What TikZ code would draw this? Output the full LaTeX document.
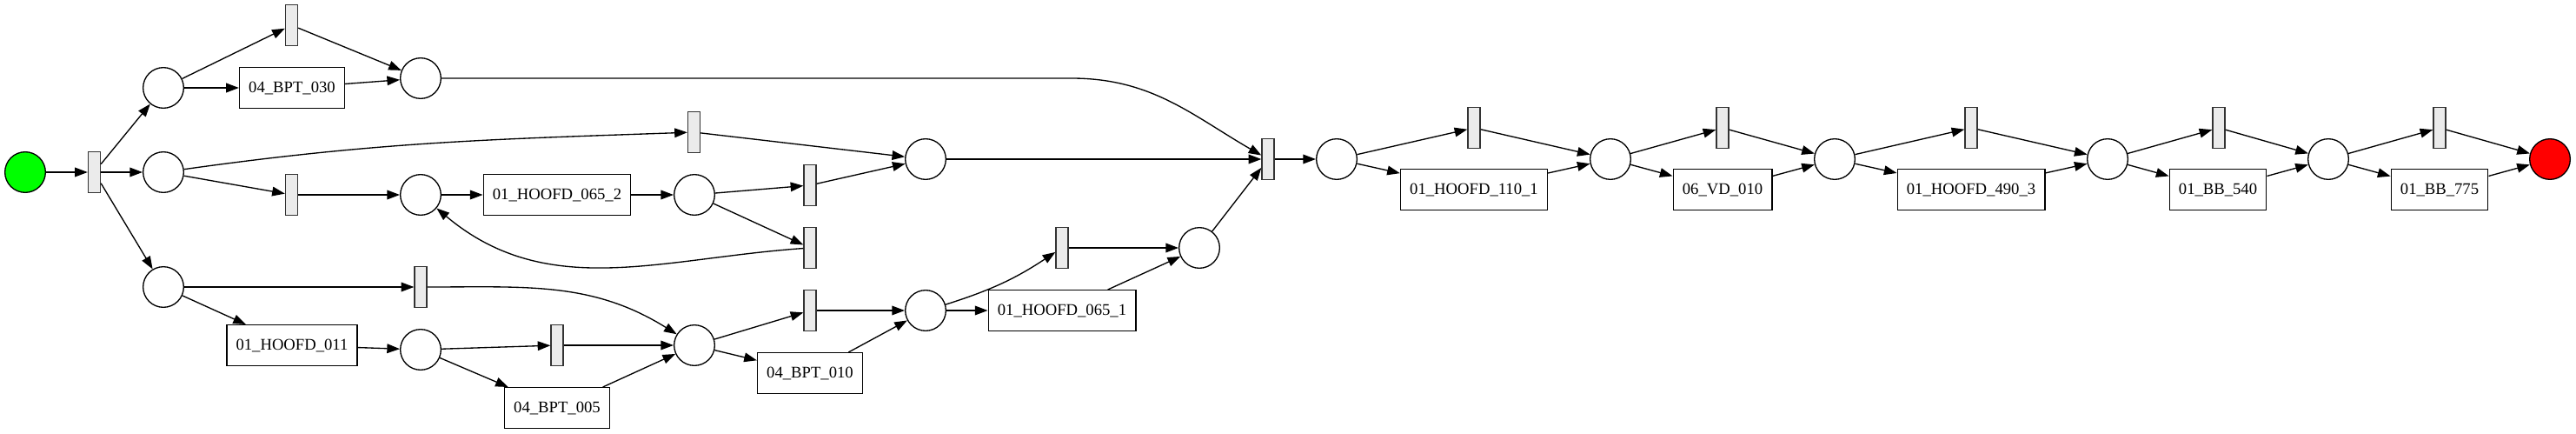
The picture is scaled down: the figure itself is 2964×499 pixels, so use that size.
\documentclass[tikz,border=0pt]{standalone}
\usepackage{fontspec}
\setmainfont{Liberation Serif}
\usetikzlibrary{arrows.meta}

\begin{document}
\begin{tikzpicture}[
    x=0.75pt, y=-0.75pt,
    font=\fontsize{14pt}{16pt}\selectfont,
    % Define node styles
    place/.style={circle, draw=black, line width=1pt, minimum size=35pt,
                  inner sep=0pt, fill=white},
    trans/.style={rectangle, draw=black!80, line width=1pt, minimum width=10.5pt,
                  minimum height=35pt, inner sep=0pt, fill=black!8},
    box/.style={rectangle, draw=black, line width=1pt, minimum height=35pt,
                inner xsep=8pt, inner ysep=0pt, fill=white},
    flow/.style={-{Triangle[length=11pt, width=8pt]}, line width=1pt}
]
    \useasboundingbox (0,0) rectangle (2964,499);

    % Create nodes
    \node[place, fill=green] (source) at (29,198) {};
    \node[trans] (t0) at (108.5,198) {};
    \node[place] (p1) at (188,101) {};
    \node[place] (p2) at (188,198) {};
    \node[place] (p3) at (188,330) {};

    \node[trans] (t1) at (335.5,29) {};
    \node[box] (bpt030) at (336,101) {04\_BPT\_030};
    \node[trans] (t2) at (335.5,224) {};
    \node[box] (hoofd011) at (336,397) {01\_HOOFD\_011};

    \node[place] (p4) at (484,90) {};
    \node[place] (p5) at (484,224) {};
    \node[trans] (t3) at (484,330) {};
    \node[place] (p7) at (484,402) {};

    \node[box] (hoofd0652) at (641,224) {01\_HOOFD\_065\_2};
    \node[trans] (t4) at (641,397) {};
    \node[box] (bpt005) at (641,469) {04\_BPT\_005};

    \node[trans] (t5) at (798.5,152) {};
    \node[place] (p6) at (799,224) {};
    \node[place] (p8) at (799,397) {};

    \node[trans] (t6) at (932,213) {};
    \node[trans] (t7) at (932,285) {};
    \node[trans] (t8) at (932,357) {};
    \node[box] (bpt010) at (932,429) {04\_BPT\_010};

    \node[place] (p9) at (1065,183) {};
    \node[place] (p10) at (1065,357) {};
    \node[trans] (t9) at (1222,285) {};
    \node[box] (hoofd0651) at (1222,357) {01\_HOOFD\_065\_1};
    \node[place] (p11) at (1380,285) {};
    \node[trans] (t10) at (1459,183) {};

    \node[place] (p12) at (1538,183) {};
    \node[trans] (t11) at (1696,147) {};
    \node[box] (hoofd1101) at (1696,218) {01\_HOOFD\_110\_1};
    \node[place] (p13) at (1853,183) {};
    \node[trans] (t12) at (1982,147) {};
    \node[box] (vd010) at (1982,218) {06\_VD\_010};
    \node[place] (p14) at (2111,183) {};
    \node[trans] (t13) at (2268,147) {};
    \node[box] (hoofd4903) at (2268,218) {01\_HOOFD\_490\_3};
    \node[place] (p15) at (2425,183) {};
    \node[trans] (t14) at (2553,147) {};
    \node[box] (bb540) at (2552,218) {01\_BB\_540};
    \node[place] (p16) at (2679,183) {};
    \node[trans] (t15) at (2807,147) {};
    \node[box] (bb775) at (2807,218) {01\_BB\_775};
    \node[place, fill=red] (sink) at (2934,183) {};

    \coordinate (bend) at (1233,90);

    % Draw arrows between nodes
    \draw[flow] (source) -- (t0);
    \draw[flow] (t0) -- (p1);
    \draw[flow] (t0) -- (p2);
    \draw[flow] (t0) -- (p3);

    \draw[flow] (p1) -- (t1);
    \draw[flow] (p1) -- (bpt030);
    \draw[flow] (t1) -- (p4);
    \draw[flow] (bpt030) -- (p4);
    \draw[flow] (p4) -- (bend) to[out=0, in=150] (t10);

    \draw[flow] (p2) to[out=8, in=182] (t5);
    \draw[flow] (p2) -- (t2);
    \draw[flow] (t2) -- (p5);
    \draw[flow] (p5) -- (hoofd0652);
    \draw[flow] (hoofd0652) -- (p6);
    \draw[flow] (p6) -- (t6);
    \draw[flow] (p6) -- (t7);
    \draw[flow] (t7) to[out=184, in=-40] (p5);
    \draw[flow] (t5) -- (p9);
    \draw[flow] (t6) -- (p9);
    \draw[flow] (p9) -- (t10);

    \draw[flow] (p3) -- (t3);
    \draw[flow] (p3) -- (hoofd011);
    \draw[flow] (t3) to[out=0, in=148] (p8);
    \draw[flow] (hoofd011) -- (p7);
    \draw[flow] (p7) -- (t4);
    \draw[flow] (p7) -- (bpt005);
    \draw[flow] (t4) -- (p8);
    \draw[flow] (bpt005) -- (p8);
    \draw[flow] (p8) -- (t8);
    \draw[flow] (p8) -- (bpt010);
    \draw[flow] (t8) -- (p10);
    \draw[flow] (bpt010) -- (p10);
    \draw[flow] (p10) to[bend right=8] (t9);
    \draw[flow] (p10) -- (hoofd0651);
    \draw[flow] (t9) -- (p11);
    \draw[flow] (hoofd0651) -- (p11);
    \draw[flow] (p11) -- (t10);
    \draw[flow] (t10) -- (p12);

    \draw[flow] (p12) -- (t11);
    \draw[flow] (p12) -- (hoofd1101);
    \draw[flow] (t11) -- (p13);
    \draw[flow] (hoofd1101) -- (p13);
    \draw[flow] (p13) -- (t12);
    \draw[flow] (p13) -- (vd010);
    \draw[flow] (t12) -- (p14);
    \draw[flow] (vd010) -- (p14);
    \draw[flow] (p14) -- (t13);
    \draw[flow] (p14) -- (hoofd4903);
    \draw[flow] (t13) -- (p15);
    \draw[flow] (hoofd4903) -- (p15);
    \draw[flow] (p15) -- (t14);
    \draw[flow] (p15) -- (bb540);
    \draw[flow] (t14) -- (p16);
    \draw[flow] (bb540) -- (p16);
    \draw[flow] (p16) -- (t15);
    \draw[flow] (p16) -- (bb775);
    \draw[flow] (t15) -- (sink);
    \draw[flow] (bb775) -- (sink);
\end{tikzpicture}
\end{document}
